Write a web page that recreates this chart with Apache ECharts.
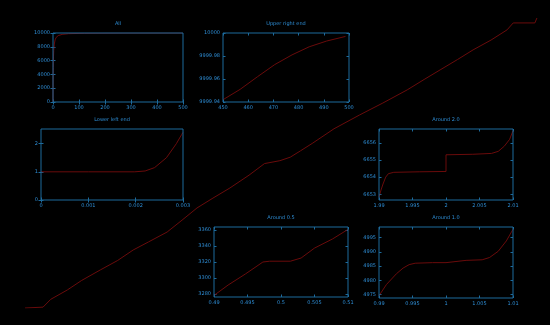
<!DOCTYPE html>
<html><head><meta charset="utf-8">
<script src="https://cdn.jsdelivr.net/npm/echarts@6/dist/echarts.min.js"></script>
<style>html,body{margin:0;padding:0;background:#000;}#c{width:550px;height:325px;}</style>
</head><body><div id="c"></div>
<script>
// Main (background) curve, arbitrary horizontal units 0..100, values 0..10000
const mainX = [0, 3.5, 5, 8.2, 11, 14.6, 18, 21, 24, 27.6, 30.5, 33.4, 36.5, 39.8, 43.5, 46.5, 49.5, 51.5, 53.5, 55.9, 60, 65, 69.5, 74.2, 77.5, 80.6, 84, 87, 90.5, 93.6, 94.8, 99.0, 99.4];
const mainY = [0, 30, 300, 620, 950, 1310, 1640, 2000, 2280, 2620, 3030, 3450, 3790, 4140, 4580, 4980, 5080, 5200, 5420, 5690, 6180, 6660, 7070, 7520, 7880, 8210, 8570, 8900, 9240, 9590, 9830, 9830, 10000];

// "All"
const allX = [0, 0.5, 1, 2, 3, 5, 8, 12, 20, 35, 60, 120, 250, 450, 500];
const allY = [1, 3320, 4986, 6654, 7500, 8400, 9000, 9350, 9620, 9800, 9900, 9960, 9992, 9999.94, 9999.995];
const allXTicks = [0, 100, 200, 300, 400, 500];
const allYTicks = [0, 2000, 4000, 6000, 8000, 10000];

// "Upper right end"
const urX = [450, 456.8, 463.7, 470.5, 477.4, 484.2, 491.1, 498.6];
const urY = [9999.942, 9999.951, 9999.962, 9999.9725, 9999.981, 9999.988, 9999.993, 9999.997];
const urXTicks = [450, 460, 470, 480, 490, 500];
const urYTicks = [9999.94, 9999.96, 9999.98, 10000];

// "Lower left end"
const llX = [0, 0.0010, 0.00198, 0.0022, 0.0024, 0.00265, 0.00286, 0.00297, 0.003];
const llY = [1, 1, 1, 1.03, 1.15, 1.5, 2.0, 2.32, 2.4];
const llXTicks = [0, 0.001, 0.002, 0.003];
const llYTicks = [0, 1, 2];

// "Around 2.0"
const a2X = [1.99, 1.9903, 1.9906, 1.9910, 1.9914, 1.9922, 1.996, 2.0, 2.0, 2.004, 2.0068, 2.0078, 2.0087, 2.0095, 2.01];
const a2Y = [6652.83, 6653.25, 6653.6, 6654.0, 6654.2, 6654.28, 6654.31, 6654.33, 6655.3, 6655.33, 6655.38, 6655.5, 6655.8, 6656.2, 6656.7];
const a2XTicks = [1.99, 1.995, 2, 2.005, 2.01];
const a2YTicks = [6653, 6654, 6655, 6656];

// "Around 0.5"
const a05X = [0.49, 0.4921, 0.4947, 0.4973, 0.4983, 0.5014, 0.503, 0.505, 0.5077, 0.51];
const a05Y = [3278, 3291, 3305, 3320, 3321, 3321, 3325, 3337.5, 3349, 3361];
const a05XTicks = [0.49, 0.495, 0.5, 0.505, 0.51];
const a05YTicks = [3280, 3300, 3320, 3340, 3360];

// "Around 1.0"
const a1X = [0.99, 0.9911, 0.9926, 0.9936, 0.9945, 0.9954, 0.998, 1.0, 1.0, 1.003, 1.0054, 1.0065, 1.0078, 1.009, 1.01];
const a1Y = [4974.6, 4978.5, 4982.3, 4984.3, 4985.5, 4986.0, 4986.2, 4986.2, 4986.9, 4987.0, 4987.2, 4988.0, 4990.2, 4993.8, 4997.9];
const a1XTicks = [0.99, 0.995, 1, 1.005, 1.01];
const a1YTicks = [4975, 4980, 4985, 4990, 4995];

const titles = ['All', 'Upper right end', 'Lower left end', 'Around 2.0', 'Around 0.5', 'Around 1.0'];

const BLUE = '#1d6a9c';
const TXT = '#2e8ed6';
const RED = '#760c0c';
const FONT = 'DejaVu Sans';
const zip = (a, b) => a.map((v, i) => [v, b[i]]);
const fmt = v => String(+(+v).toFixed(6));

const panels = [
  {box: [53, 33, 130, 69], xs: allX, ys: allY, xt: allXTicks, yt: allYTicks, xr: [0, 500], yr: [0, 10000]},
  {box: [223, 33, 126, 69], xs: urX, ys: urY, xt: urXTicks, yt: urYTicks, xr: [450, 500], yr: [9999.94, 10000]},
  {box: [41, 129, 142, 71], xs: llX, ys: llY, xt: llXTicks, yt: llYTicks, xr: [0, 0.003], yr: [0, 2.52]},
  {box: [379, 129, 134, 71], xs: a2X, ys: a2Y, xt: a2XTicks, yt: a2YTicks, xr: [1.99, 2.01], yr: [6652.67, 6656.8]},
  {box: [214, 227, 134, 70], xs: a05X, ys: a05Y, xt: a05XTicks, yt: a05YTicks, xr: [0.49, 0.51], yr: [3276, 3364]},
  {box: [379, 227, 134, 71], xs: a1X, ys: a1Y, xt: a1XTicks, yt: a1YTicks, xr: [0.99, 1.01], yr: [4973.8, 4998.7]}
];

const grid = [{left: 25, right: 10, top: 18, bottom: 17}];
const xAxis = [{type: 'value', gridIndex: 0, min: 0, max: 100, show: false}];
const yAxis = [{type: 'value', gridIndex: 0, min: 0, max: 10000, show: false}];
const series = [{
  type: 'line', xAxisIndex: 0, yAxisIndex: 0, data: zip(mainX, mainY),
  showSymbol: false, lineStyle: {color: RED, width: 0.9}, z: 1, silent: true
}];
const graphic = [];

function mkAxis(gi, pos, range, ticks, showLabel) {
  return {
    type: 'value', gridIndex: gi, position: pos, min: range[0], max: range[1],
    axisLine: {show: false}, splitLine: {show: false},
    axisTick: {show: true, inside: true, length: 2.5, lineStyle: {color: BLUE, width: 1}, customValues: ticks},
    axisLabel: {show: showLabel, customValues: ticks, color: TXT, fontSize: 5, fontFamily: FONT,
                margin: 3, formatter: fmt, hideOverlap: false}
  };
}

panels.forEach((p, i) => {
  const gi = i + 1;
  const [l, t, w, h] = p.box;
  grid.push({left: l, top: t, width: w, height: h, show: true, backgroundColor: 'transparent',
             borderColor: BLUE, borderWidth: 1, z: 10});
  const xb = xAxis.length;
  xAxis.push(mkAxis(gi, 'bottom', p.xr, p.xt, true));
  xAxis.push(mkAxis(gi, 'top', p.xr, p.xt, false));
  const yl = yAxis.length;
  yAxis.push(mkAxis(gi, 'left', p.yr, p.yt, true));
  yAxis.push(mkAxis(gi, 'right', p.yr, p.yt, false));
  series.push({
    type: 'line', xAxisIndex: xb, yAxisIndex: yl, data: zip(p.xs, p.ys),
    showSymbol: false, lineStyle: {color: RED, width: 0.9}, z: 2, silent: true
  });
  graphic.push({type: 'text', x: l + w / 2, y: t - 9,
    style: {text: titles[i], fill: TXT, font: '5px "' + FONT + '"', textAlign: 'center', textVerticalAlign: 'middle'}});
});

const chart = echarts.init(document.getElementById('c'), null, {renderer: 'canvas'});
chart.setOption({
  backgroundColor: '#000',
  animation: false,
  grid, xAxis, yAxis, series, graphic
});
</script>
</body></html>
